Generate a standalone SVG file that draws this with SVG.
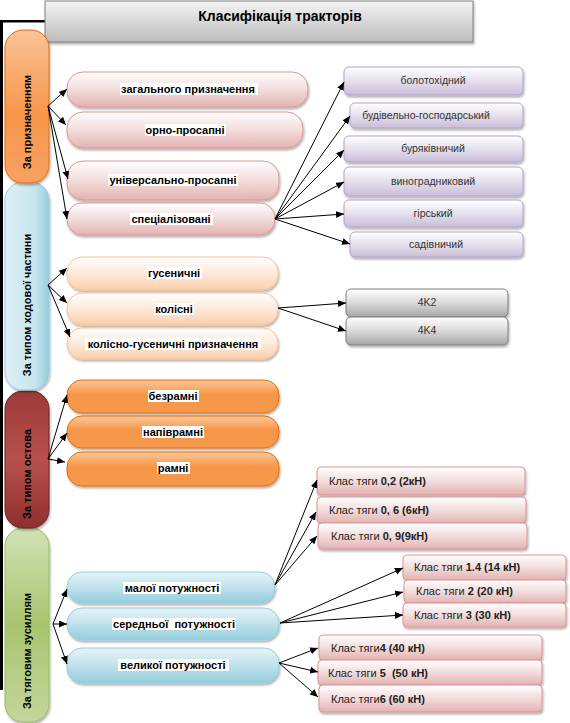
<svg xmlns="http://www.w3.org/2000/svg" width="570" height="723" viewBox="0 0 570 723">
<defs>
<linearGradient id="gTitle" x1="0" y1="0" x2="0" y2="1"><stop offset="0" stop-color="#f4f4f4"/><stop offset="1" stop-color="#bcbcbc"/></linearGradient>
<linearGradient id="gPink" x1="0" y1="0" x2="0" y2="1"><stop offset="0" stop-color="#ffffff"/><stop offset="0.5" stop-color="#f2dcdb"/><stop offset="1" stop-color="#e3b3b2"/></linearGradient>
<linearGradient id="gLav" x1="0" y1="0" x2="0" y2="1"><stop offset="0" stop-color="#ffffff"/><stop offset="0.5" stop-color="#e5e0ec"/><stop offset="1" stop-color="#c9bdd9"/></linearGradient>
<linearGradient id="gPeach" x1="0" y1="0" x2="0" y2="1"><stop offset="0" stop-color="#ffffff"/><stop offset="0.5" stop-color="#fde9d9"/><stop offset="1" stop-color="#fbcfa9"/></linearGradient>
<linearGradient id="gGray" x1="0" y1="0" x2="0" y2="1"><stop offset="0" stop-color="#ffffff"/><stop offset="0.5" stop-color="#d9d9d9"/><stop offset="1" stop-color="#a6a6a6"/></linearGradient>
<linearGradient id="gOrange" x1="0" y1="0" x2="0" y2="1"><stop offset="0" stop-color="#fcc89a"/><stop offset="0.45" stop-color="#f79646"/><stop offset="1" stop-color="#f69a4e"/></linearGradient>
<linearGradient id="gBlue" x1="0" y1="0" x2="0" y2="1"><stop offset="0" stop-color="#e6f4f8"/><stop offset="0.5" stop-color="#bfe2eb"/><stop offset="1" stop-color="#93cddd"/></linearGradient>
<linearGradient id="pOrange" x1="0" y1="0" x2="0" y2="1"><stop offset="0" stop-color="#fbc396"/><stop offset="0.55" stop-color="#f7964a"/><stop offset="1" stop-color="#f8a163"/></linearGradient>
<linearGradient id="pBlue" x1="0" y1="0" x2="1" y2="0"><stop offset="0" stop-color="#dff0f5"/><stop offset="0.7" stop-color="#c5e5ee"/><stop offset="1" stop-color="#93cddd"/></linearGradient>
<linearGradient id="pRed" x1="0" y1="0" x2="0" y2="1"><stop offset="0" stop-color="#9c3a38"/><stop offset="0.5" stop-color="#b8504c"/><stop offset="1" stop-color="#8e302e"/></linearGradient>
<linearGradient id="pGreen" x1="0" y1="0" x2="0" y2="1"><stop offset="0" stop-color="#d2e2b6"/><stop offset="0.5" stop-color="#a9c46e"/><stop offset="1" stop-color="#c3d69b"/></linearGradient>
<filter id="sh" x="-10%" y="-20%" width="120%" height="150%"><feDropShadow dx="1" dy="2" stdDeviation="1.2" flood-color="#000" flood-opacity="0.3"/></filter>
<marker id="ar" markerUnits="userSpaceOnUse" markerWidth="9" markerHeight="8" refX="8" refY="3.5" orient="auto"><path d="M0,0 L8,3.5 L0,7 z" fill="#000"/></marker>
</defs>
<style>
.t{font-family:"Liberation Sans",Arial,sans-serif;fill:#000}
.b{font-weight:bold;font-size:11px}
.n{font-size:10.5px;fill:#333}
.k{font-size:11px;fill:#222}
.pl{font-weight:bold;font-size:11px}
.hl{fill:#fff}
.c line{stroke:#000;stroke-width:1;marker-end:url(#ar)}
.pink{fill:url(#gPink);stroke:#d99694;stroke-width:1}
.lav{fill:url(#gLav);stroke:#b3a2c7;stroke-width:1}
.peach{fill:url(#gPeach);stroke:#fac090;stroke-width:1}
.gray{fill:url(#gGray);stroke:#7f7f7f;stroke-width:1}
.org{fill:url(#gOrange);stroke:#e46c0a;stroke-width:1}
.blu{fill:url(#gBlue);stroke:#93cddd;stroke-width:1}
</style>
<rect width="570" height="723" fill="#fff"/>
<rect x="0" y="21" width="3" height="669" fill="#000"/>
<rect x="0" y="20" width="48" height="2.5" fill="#000"/>
<g id="title">
<rect x="45" y="1" width="428" height="41" fill="url(#gTitle)" stroke="#7f7f7f" filter="url(#sh)"/>
<text class="t" x="280" y="21" font-size="14" font-weight="bold" text-anchor="middle">Класифікація тракторів</text>
</g>
<g id="p4"><rect x="5" y="528" width="44" height="194" rx="18" fill="url(#pGreen)" stroke="#9bbb59" filter="url(#sh)"/><text class="t pl" transform="translate(31,651) rotate(-90)" text-anchor="middle">За тяговим зусиллям</text></g>
<g id="p3"><rect x="5" y="391" width="44" height="137" rx="18" fill="url(#pRed)" stroke="#632523" filter="url(#sh)"/><text class="t pl" transform="translate(31,474) rotate(-90)" text-anchor="middle">За типом остова</text></g>
<g id="p2"><rect x="5" y="182" width="44" height="208" rx="18" fill="url(#pBlue)" stroke="#93cddd" filter="url(#sh)"/><text class="t pl" transform="translate(31,305) rotate(-90)" text-anchor="middle">За типом ходової частини</text></g>
<g id="p1"><rect x="5" y="30" width="44" height="153" rx="18" fill="url(#pOrange)" stroke="#e46c0a" filter="url(#sh)"/><text class="t pl" transform="translate(31,122) rotate(-90)" text-anchor="middle">За призначенням</text></g>
<g id="n1a"><rect class="pink" x="67" y="72" width="241" height="35" rx="16" filter="url(#sh)"/><rect class="hl" x="120" y="83" width="138" height="12"/><text class="t b" x="188" y="93" text-anchor="middle">загального призначення</text></g>
<g id="n1b"><rect class="pink" x="67" y="112" width="236" height="36" rx="16" filter="url(#sh)"/><rect class="hl" x="145" y="124" width="81" height="12"/><text class="t b" x="185" y="134" text-anchor="middle">орно-просапні</text></g>
<g id="n1c"><rect class="pink" x="67" y="161" width="212" height="39" rx="16" filter="url(#sh)"/><rect class="hl" x="108" y="174" width="130" height="12"/><text class="t b" x="173" y="184" text-anchor="middle">універсально-просапні</text></g>
<g id="n1d"><rect class="pink" x="67" y="203" width="208" height="32" rx="15" filter="url(#sh)"/><rect class="hl" x="130" y="213" width="83" height="12"/><text class="t b" x="171" y="223" text-anchor="middle">спеціалізовані</text></g>
<g id="s1"><rect class="lav" x="344" y="67" width="179" height="28" rx="5" filter="url(#sh)"/><text class="t n" x="433" y="84" text-anchor="middle">болотохідний</text></g>
<g id="s2"><rect class="lav" x="350" y="103" width="173" height="25" rx="5" filter="url(#sh)"/><text class="t n" x="426" y="119" text-anchor="middle">будівельно-господарський</text></g>
<g id="s3"><rect class="lav" x="344" y="136" width="179" height="26" rx="5" filter="url(#sh)"/><text class="t n" x="433" y="152" text-anchor="middle">буряківничий</text></g>
<g id="s4"><rect class="lav" x="344" y="167" width="179" height="29" rx="5" filter="url(#sh)"/><text class="t n" x="433" y="185" text-anchor="middle">виноградниковий</text></g>
<g id="s5"><rect class="lav" x="344" y="200" width="179" height="27" rx="5" filter="url(#sh)"/><text class="t n" x="433" y="217" text-anchor="middle">гірський</text></g>
<g id="s6"><rect class="lav" x="350" y="232" width="173" height="25" rx="5" filter="url(#sh)"/><text class="t n" x="436" y="248" text-anchor="middle">садівничий</text></g>
<g id="n2a"><rect class="peach" x="67" y="257" width="211" height="33" rx="15" filter="url(#sh)"/><rect class="hl" x="147" y="267" width="55" height="12"/><text class="t b" x="174" y="277" text-anchor="middle">гусеничні</text></g>
<g id="n2b"><rect class="peach" x="67" y="293" width="211" height="32" rx="15" filter="url(#sh)"/><rect class="hl" x="154" y="303" width="40" height="12"/><text class="t b" x="174" y="313" text-anchor="middle">колісні</text></g>
<g id="n2c"><rect class="peach" x="67" y="328" width="211" height="31" rx="15" filter="url(#sh)"/><rect class="hl" x="85" y="338" width="176" height="12"/><text class="t b" x="173" y="348" text-anchor="middle">колісно-гусеничні призначення</text></g>
<g id="k1"><rect class="gray" x="346" y="289" width="162" height="28" rx="5" filter="url(#sh)"/><text class="t n" x="427" y="306" text-anchor="middle">4K2</text></g>
<g id="k2"><rect class="gray" x="346" y="317" width="162" height="28" rx="5" filter="url(#sh)"/><text class="t n" x="427" y="334" text-anchor="middle">4K4</text></g>
<g id="n3a"><rect class="org" x="67" y="380" width="212" height="33" rx="15" filter="url(#sh)"/><rect class="hl" x="148" y="390" width="51" height="12"/><text class="t b" x="173" y="400" text-anchor="middle">безрамні</text></g>
<g id="n3b"><rect class="org" x="67" y="416" width="212" height="32" rx="15" filter="url(#sh)"/><rect class="hl" x="142" y="426" width="62" height="12"/><text class="t b" x="173" y="436" text-anchor="middle">напіврамні</text></g>
<g id="n3c"><rect class="org" x="67" y="452" width="212" height="34" rx="15" filter="url(#sh)"/><rect class="hl" x="157" y="462" width="33" height="12"/><text class="t b" x="173" y="472" text-anchor="middle">рамні</text></g>
<g id="n4a"><rect class="blu" x="67" y="572" width="208" height="31" rx="15" filter="url(#sh)"/><rect class="hl" x="123" y="582" width="98" height="12"/><text class="t b" x="172" y="592" text-anchor="middle">малої потужності</text></g>
<g id="n4b"><rect class="blu" x="67" y="608" width="212" height="32" rx="15" filter="url(#sh)"/><rect class="hl" x="112" y="618" width="124" height="12"/><text class="t b" x="174" y="628" text-anchor="middle" xml:space="preserve">середньої  потужності</text></g>
<g id="n4c"><rect class="blu" x="67" y="648" width="212" height="35" rx="15" filter="url(#sh)"/><rect class="hl" x="118" y="659" width="111" height="12"/><text class="t b" x="173" y="669" text-anchor="middle">великої потужності</text></g>
<g id="c1"><rect class="pink" x="317" y="467" width="208" height="28" rx="4" filter="url(#sh)"/><text class="t k" x="329" y="485">Клас тяги <tspan font-weight="bold">0,2 (2кН)</tspan></text></g>
<g id="c2"><rect class="pink" x="317" y="497" width="209" height="26" rx="4" filter="url(#sh)"/><text class="t k" x="329" y="514">Клас тяги <tspan font-weight="bold">0, 6 (6кН)</tspan></text></g>
<g id="c3"><rect class="pink" x="318" y="523" width="209" height="26" rx="4" filter="url(#sh)"/><text class="t k" x="331" y="540">Клас тяги <tspan font-weight="bold">0, 9(9кН)</tspan></text></g>
<g id="c4"><rect class="pink" x="403" y="555" width="163" height="25" rx="4" filter="url(#sh)"/><text class="t k" x="414" y="571">Клас тяги <tspan font-weight="bold">1.4 (14 кН)</tspan></text></g>
<g id="c5"><rect class="pink" x="404" y="580" width="162" height="23" rx="4" filter="url(#sh)"/><text class="t k" x="416" y="595">Клас тяги <tspan font-weight="bold">2 (20 кН)</tspan></text></g>
<g id="c6"><rect class="pink" x="403" y="603" width="163" height="24" rx="4" filter="url(#sh)"/><text class="t k" x="414" y="619">Клас тяги <tspan font-weight="bold">3 (30 кН)</tspan></text></g>
<g id="c7"><rect class="pink" x="319" y="635" width="223" height="25" rx="4" filter="url(#sh)"/><text class="t k" x="331" y="652">Клас тяги<tspan font-weight="bold">4 (40 кН)</tspan></text></g>
<g id="c8"><rect class="pink" x="318" y="660" width="224" height="25" rx="4" filter="url(#sh)"/><text class="t k" x="328" y="677" xml:space="preserve">Клас тяги <tspan font-weight="bold">5  (50 кН)</tspan></text></g>
<g id="c9"><rect class="pink" x="319" y="685" width="223" height="27" rx="4" filter="url(#sh)"/><text class="t k" x="331" y="703">Клас тяги<tspan font-weight="bold">6 (60 кН)</tspan></text></g>
<g id="connectors" class="c">
<line x1="48" y1="106" x2="67" y2="89"/>
<line x1="48" y1="106" x2="66" y2="125"/>
<line x1="48" y1="106" x2="68" y2="179"/>
<line x1="48" y1="106" x2="67" y2="219"/>
<line x1="275" y1="219" x2="344" y2="82"/>
<line x1="275" y1="219" x2="350" y2="116"/>
<line x1="275" y1="219" x2="344" y2="150"/>
<line x1="275" y1="219" x2="344" y2="182"/>
<line x1="275" y1="219" x2="344" y2="214"/>
<line x1="275" y1="219" x2="350" y2="244"/>
<line x1="48" y1="285" x2="67" y2="268"/>
<line x1="48" y1="285" x2="67" y2="303"/>
<line x1="48" y1="285" x2="70" y2="337"/>
<line x1="278" y1="308" x2="346" y2="303"/>
<line x1="278" y1="308" x2="346" y2="331"/>
<line x1="48" y1="459" x2="67" y2="395"/>
<line x1="48" y1="459" x2="67" y2="433"/>
<line x1="48" y1="459" x2="65" y2="462"/>
<line x1="53" y1="624" x2="67" y2="589"/>
<line x1="53" y1="624" x2="67" y2="624"/>
<line x1="53" y1="624" x2="67" y2="664"/>
<line x1="275" y1="585" x2="317" y2="480"/>
<line x1="275" y1="585" x2="316" y2="512"/>
<line x1="275" y1="585" x2="317" y2="536"/>
<line x1="280" y1="623" x2="403" y2="568"/>
<line x1="280" y1="623" x2="403" y2="592"/>
<line x1="280" y1="623" x2="403" y2="615"/>
<line x1="279" y1="663" x2="318" y2="648"/>
<line x1="279" y1="663" x2="318" y2="672"/>
<line x1="279" y1="663" x2="318" y2="697"/>
</g>
</svg>
